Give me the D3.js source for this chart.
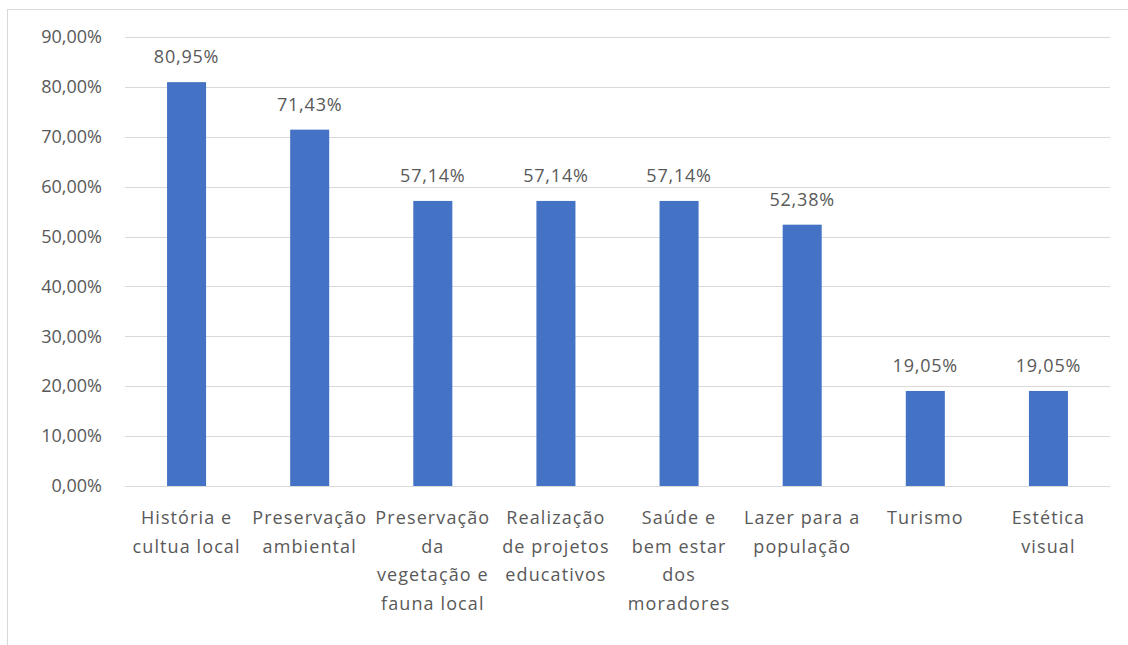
<!DOCTYPE html>
<html>
<head>
<meta charset="utf-8">
<script src="https://cdn.jsdelivr.net/npm/d3@7"></script>
<style>
  html, body { margin: 0; padding: 0; background: #fff; }
  svg { display: block; }
  text { font-family: "Open Sans", "Noto Sans", sans-serif; fill: #595959; }
</style>
</head>
<body>
<svg id="chart" width="1128" height="645"></svg>
<script>
// Category labels, already broken into the lines shown under each bar
const categories = [
  ["História e", "cultua local"],
  ["Preservação", "ambiental"],
  ["Preservação", "da", "vegetação e", "fauna local"],
  ["Realização", "de projetos", "educativos"],
  ["Saúde e", "bem estar", "dos", "moradores"],
  ["Lazer para a", "população"],
  ["Turismo"],
  ["Estética", "visual"]
];
// Share of responses per category (%)
const values = [80.95, 71.43, 57.14, 57.14, 57.14, 52.38, 19.05, 19.05];
// Y axis ticks (%)
const yTicks = [0, 10, 20, 30, 40, 50, 60, 70, 80, 90];

const fmt = v => v.toFixed(2).replace(".", ",") + "%";

const svg = d3.select("#chart");
const W = 1128, H = 645;
const margin = { left: 125, right: 18, top: 37, bottom: 159 };

// chart frame (right and bottom edges fall outside the view)
svg.append("rect")
  .attr("x", 7.5).attr("y", 9.5)
  .attr("width", W + 10).attr("height", H + 10)
  .attr("fill", "#fff").attr("stroke", "#d9d9d9");

const x = d3.scaleBand()
  .domain(d3.range(categories.length))
  .range([margin.left, W - margin.right])
  .paddingInner(0.683).paddingOuter(0.3415);

const y = d3.scaleLinear()
  .domain([0, 90])
  .range([H - margin.bottom, margin.top]);

// gridlines
svg.append("g")
  .selectAll("line")
  .data(yTicks)
  .join("line")
  .attr("x1", margin.left).attr("x2", W - margin.right)
  .attr("y1", d => Math.round(y(d)) + 0.5).attr("y2", d => Math.round(y(d)) + 0.5)
  .attr("stroke", "#d9d9d9").attr("stroke-width", 1);

// y axis labels
const yAxis = d3.axisLeft(y).tickValues(yTicks).tickFormat(fmt).tickSize(0).tickPadding(23);
const gy = svg.append("g").attr("transform", `translate(${margin.left},0)`).call(yAxis);
gy.select(".domain").remove();
gy.selectAll("text")
  .style("font-family", "'Open Sans', sans-serif")
  .style("font-size", "18px")
  .attr("fill", "#595959");

// bars
svg.append("g")
  .selectAll("rect")
  .data(values)
  .join("rect")
  .attr("x", (d, i) => x(i))
  .attr("width", x.bandwidth())
  .attr("y", d => y(d))
  .attr("height", d => y(0) - y(d))
  .attr("fill", "#4472c4");

// value labels
svg.append("g")
  .selectAll("text")
  .data(values)
  .join("text")
  .attr("x", (d, i) => x(i) + x.bandwidth() / 2)
  .attr("y", d => y(d) - 19)
  .attr("text-anchor", "middle")
  .style("font-size", "18px")
  .style("letter-spacing", "0.8px")
  .text(d => fmt(d));

// category labels
const cat = svg.append("g")
  .selectAll("text")
  .data(categories)
  .join("text")
  .attr("x", (d, i) => x(i) + x.bandwidth() / 2)
  .attr("y", y(0) + 38)
  .attr("text-anchor", "middle")
  .style("font-size", "18px")
  .style("letter-spacing", "1.1px");
cat.selectAll("tspan")
  .data(d => d)
  .join("tspan")
  .attr("x", function () { return d3.select(this.parentNode).attr("x"); })
  .attr("dy", (d, i) => i === 0 ? 0 : 28.5)
  .text(d => d);
</script>
</body>
</html>
